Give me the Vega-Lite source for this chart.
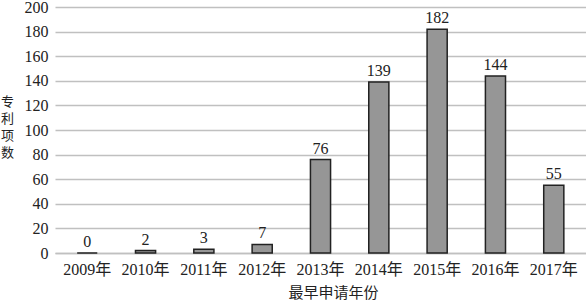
{
  "$schema": "https://vega.github.io/schema/vega-lite/v6.json",
  "width": 531,
  "height": 246,
  "autosize": {"type": "none"},
  "padding": {"left": 55, "top": 7, "right": 0, "bottom": 51},
  "background": "white",
  "config": {
    "view": {"stroke": null},
    "font": "Liberation Serif, Noto Sans CJK SC"
  },
  "data": {
    "values": [
      {"year": "2009年", "count": 0},
      {"year": "2010年", "count": 2},
      {"year": "2011年", "count": 3},
      {"year": "2012年", "count": 7},
      {"year": "2013年", "count": 76},
      {"year": "2014年", "count": 139},
      {"year": "2015年", "count": 182},
      {"year": "2016年", "count": 144},
      {"year": "2017年", "count": 55}
    ]
  },
  "encoding": {
    "x": {
      "field": "year",
      "type": "nominal",
      "sort": null,
      "scale": {"paddingInner": 0.655, "paddingOuter": 0.38},
      "axis": {
        "title": "最早申请年份",
        "titleFont": "Noto Sans CJK SC",
        "titleFontSize": 15,
        "titleFontWeight": "normal",
        "titleColor": "#222",
        "titlePadding": 8,
        "titleX": 278,
        "labelAngle": 0,
        "labelFont": "Liberation Serif, Noto Sans CJK SC",
        "labelFontSize": 16,
        "labelColor": "#222",
        "labelPadding": 8,
        "ticks": false,
        "domainColor": "#c0c0c0",
        "domainWidth": 1.5
      }
    },
    "y": {
      "field": "count",
      "type": "quantitative",
      "scale": {"domain": [0, 200], "nice": false},
      "axis": {
        "values": [0, 20, 40, 60, 80, 100, 120, 140, 160, 180, 200],
        "title": ["专", "利", "项", "数"],
        "titleFont": "Noto Sans CJK SC",
        "titleFontSize": 13,
        "titleFontWeight": "normal",
        "titleColor": "#222",
        "titleAngle": 0,
        "titleLineHeight": 17,
        "titleAlign": "center",
        "titleBaseline": "middle",
        "titleX": -48,
        "titleY": 94,
        "labelFont": "Liberation Serif",
        "labelFontSize": 16,
        "labelColor": "#222",
        "labelPadding": 7,
        "ticks": false,
        "domain": false,
        "gridColor": "#c0c0c0",
        "gridWidth": 1.5
      }
    }
  },
  "layer": [
    {
      "mark": {"type": "bar", "color": "#969696", "stroke": "#222", "strokeWidth": 1.5}
    },
    {
      "mark": {"type": "text", "dy": -11, "fontSize": 16, "font": "Liberation Serif", "color": "#222"},
      "encoding": {"text": {"field": "count", "type": "quantitative"}}
    }
  ]
}
